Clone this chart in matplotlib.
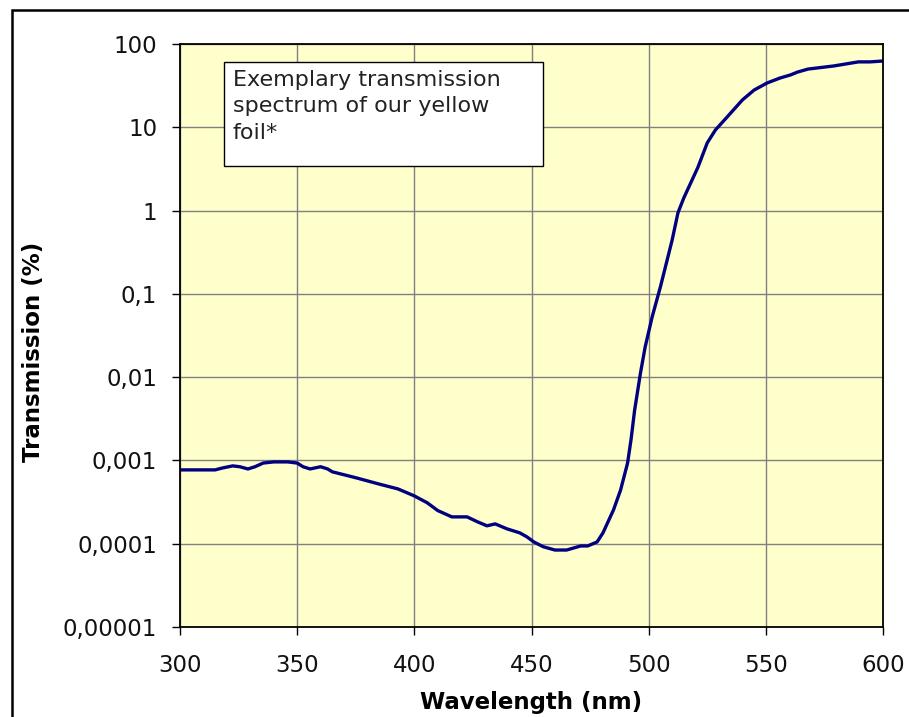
import matplotlib
matplotlib.use("Agg")
import matplotlib.pyplot as plt
from matplotlib.patches import Rectangle

# transmission spectrum
wavelength = [300, 315, 318, 322.5, 325.5, 329, 332, 335.5, 340, 346, 350, 352.5, 355.5,
              360, 363, 365, 375, 385, 393, 400, 405.5, 410, 416, 422.5, 427, 431,
              434.5, 439.5, 445, 448, 451, 455, 460, 465, 471, 474, 478, 480.5, 485,
              488, 491, 492.5, 494, 496.5, 498.5, 501.5, 505, 510, 512.5, 515, 521,
              525, 528.5, 533.5, 540, 545, 550.5, 556, 560.5, 563.5, 568, 579, 589.5,
              594.5, 600]
transmission = [7.7e-4, 7.7e-4, 8.1e-4, 8.6e-4, 8.4e-4, 7.9e-4, 8.4e-4, 9.3e-4, 9.6e-4,
                9.6e-4, 9.3e-4, 8.4e-4, 7.9e-4, 8.4e-4, 7.9e-4, 7.3e-4, 6.2e-4, 5.2e-4,
                4.55e-4, 3.75e-4, 3.1e-4, 2.5e-4, 2.1e-4, 2.1e-4, 1.83e-4, 1.64e-4,
                1.73e-4, 1.51e-4, 1.35e-4, 1.21e-4, 1.05e-4, 9.2e-5, 8.4e-5, 8.4e-5,
                9.4e-5, 9.4e-5, 1.05e-4, 1.35e-4, 2.55e-4, 4.4e-4, 9.3e-4, 1.8e-3,
                4.0e-3, 0.0112, 0.023, 0.053, 0.121, 0.44, 0.94, 1.42, 3.3, 6.5, 9.3,
                13.3, 21.3, 28, 34, 39, 42.5, 46, 50, 54.5, 61, 61, 62.5]

x_ticks = [300, 350, 400, 450, 500, 550, 600]
y_ticks = [1e-5, 1e-4, 1e-3, 1e-2, 1e-1, 1, 10, 100]
y_tick_labels = ["0,00001", "0,0001", "0,001", "0,01", "0,1", "1", "10", "100"]

W, H = 909, 717
fig = plt.figure(figsize=(W / 100, H / 100), dpi=100)
ax = fig.add_axes([180 / W, 1 - 627 / H, 703 / W, 583 / H])

ax.set_facecolor("#FFFFCC")
ax.plot(wavelength, transmission, color="#000080", lw=2.4, solid_joinstyle="round")

ax.set_yscale("log")
ax.set_xlim(300, 600)
ax.set_ylim(1e-5, 100)
ax.set_xticks(x_ticks)
ax.set_xticklabels([str(v) for v in x_ticks])
ax.set_yticks(y_ticks)
ax.set_yticklabels(y_tick_labels)
ax.minorticks_off()
ax.grid(True, color="#808080", lw=1)
ax.set_axisbelow(True)

ax.tick_params(axis="both", labelsize=16.5, length=5.5, width=1, color="black",
               labelcolor="#111111")
ax.tick_params(axis="x", pad=14)
ax.tick_params(axis="y", pad=11)
for s in ax.spines.values():
    s.set_color("black")
    s.set_linewidth(1.3)

fig.text(531 / W, 1 - 703 / H, "Wavelength (nm)", ha="center", va="center",
         fontsize=16.5, fontweight="bold")
fig.text(34 / W, 1 - 352 / H, "Transmission (%)", ha="center", va="center",
         rotation=90, fontsize=16.5, fontweight="bold")

# note box
fig.patches.append(Rectangle((224 / W, 1 - 166 / H), 319 / W, 104 / H,
                             transform=fig.transFigure, facecolor="white",
                             edgecolor="black", lw=1))
fig.text(233 / W, 1 - 70 / H, "Exemplary transmission\nspectrum of our yellow\nfoil*",
         ha="left", va="top", fontsize=16, color="#222222", linespacing=1.4)

# outer chart frame
fig.patches.append(Rectangle((12 / W, -0.1), 1.2, 1 - 10 / H + 0.1,
                             transform=fig.transFigure, facecolor="none",
                             edgecolor="black", lw=1.8))

fig.savefig("out.png", dpi=100)
